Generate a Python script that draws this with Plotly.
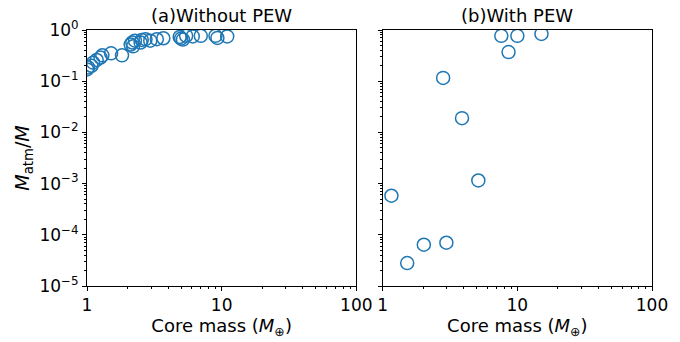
import plotly.graph_objects as go

# Panel (a): atmosphere mass fraction vs core mass, without photoevaporative wind
core_a = [1.0, 1.02, 1.08, 1.11, 1.18, 1.26, 1.30, 1.51, 1.82, 2.11, 2.17, 2.2, 2.27,
          2.50, 2.55, 2.72, 2.95, 3.30, 3.69, 4.88, 5.0, 5.16, 5.45, 6.1, 7.0, 9.0, 9.3, 11.0]
frac_a = [0.17, 0.186, 0.20, 0.23, 0.26, 0.29, 0.32, 0.35, 0.32, 0.52, 0.57, 0.48, 0.62,
          0.57, 0.64, 0.66, 0.62, 0.66, 0.69, 0.73, 0.68, 0.65, 0.77, 0.75, 0.77, 0.77, 0.70, 0.75]

# Panel (b): same quantity with photoevaporative wind
core_b = [1.16, 1.52, 2.02, 2.97, 2.81, 3.88, 5.13, 7.6, 10.0, 8.6, 15.1]
frac_b = [5.8e-4, 2.8e-5, 6.4e-5, 7.0e-5, 0.116, 0.019, 1.15e-3, 0.77, 0.77, 0.37, 0.84]

panel_titles = ["(a)Without PEW", "(b)With PEW"]
x_ticks = [1, 10, 100]
x_ticktext = ["1", "10", "100"]
y_ticks = [1e-5, 1e-4, 1e-3, 1e-2, 1e-1, 1]
y_ticktext = ["10<sup>\u22125</sup>", "10<sup>\u22124</sup>", "10<sup>\u22123</sup>",
              "10<sup>\u22122</sup>", "10<sup>\u22121</sup>", "10<sup>0</sup>"]

x_minor = [m * d for d in (1, 10) for m in range(2, 10)]
y_minor = [m * d for d in (1e-5, 1e-4, 1e-3, 1e-2, 1e-1) for m in range(2, 10)]

blue = "#1f77b4"
font = "DejaVu Sans"

fig = go.Figure()
marker = dict(symbol="circle-open", size=13, color=blue, line=dict(width=1.5, color=blue))
fig.add_trace(go.Scatter(x=core_a, y=frac_a, mode="markers", marker=marker,
                         xaxis="x", yaxis="y", showlegend=False))
fig.add_trace(go.Scatter(x=core_b, y=frac_b, mode="markers", marker=marker,
                         xaxis="x2", yaxis="y2", showlegend=False))

xcommon = dict(type="log", range=[0, 2], tickvals=x_ticks, ticktext=x_ticktext,
               ticks="outside", ticklen=4, tickwidth=1, tickcolor="black",
               showline=True, linecolor="black", linewidth=1, mirror=True,
               showgrid=False, zeroline=False,
               tickfont=dict(family=font, size=17, color="black"),
               title=dict(text="Core mass (<i>M</i><sub>\u2295</sub>)",
                          font=dict(family=font, size=18, color="black"), standoff=2),
               minor=dict(tickvals=x_minor, ticks="outside", ticklen=2, tickcolor="black",
                          showgrid=False))
ycommon = dict(type="log", range=[-5, 0], tickvals=y_ticks, ticktext=y_ticktext,
               ticks="outside", ticklen=4, tickwidth=1, tickcolor="black",
               showline=True, linecolor="black", linewidth=1, mirror=True,
               showgrid=False, zeroline=False,
               tickfont=dict(family=font, size=17, color="black"),
               minor=dict(tickvals=y_minor, ticks="outside", ticklen=2, tickcolor="black",
                          showgrid=False))

fig.update_layout(
    width=680, height=342,
    margin=dict(l=87, r=16, t=30, b=50),
    plot_bgcolor="white", paper_bgcolor="white",
    xaxis=dict(domain=[0, 0.4766], anchor="y", **xcommon),
    xaxis2=dict(domain=[0.5234, 1], anchor="y2", **xcommon),
    yaxis=dict(domain=[0, 1], anchor="x",
               title=dict(text="<i>M</i><sub>atm</sub>/<i>M</i>",
                          font=dict(family=font, size=19, color="black"), standoff=4),
               **ycommon),
    yaxis2=dict(domain=[0, 1], anchor="x2", showticklabels=False, **ycommon),
)

for i, t in enumerate(panel_titles):
    ref = "x domain" if i == 0 else "x2 domain"
    fig.add_annotation(text=t, xref=ref, yref="paper", x=0.5, y=1, xanchor="center",
                       yanchor="bottom", yshift=2, showarrow=False,
                       font=dict(family=font, size=18, color="black"))

fig.write_html("out.html")
